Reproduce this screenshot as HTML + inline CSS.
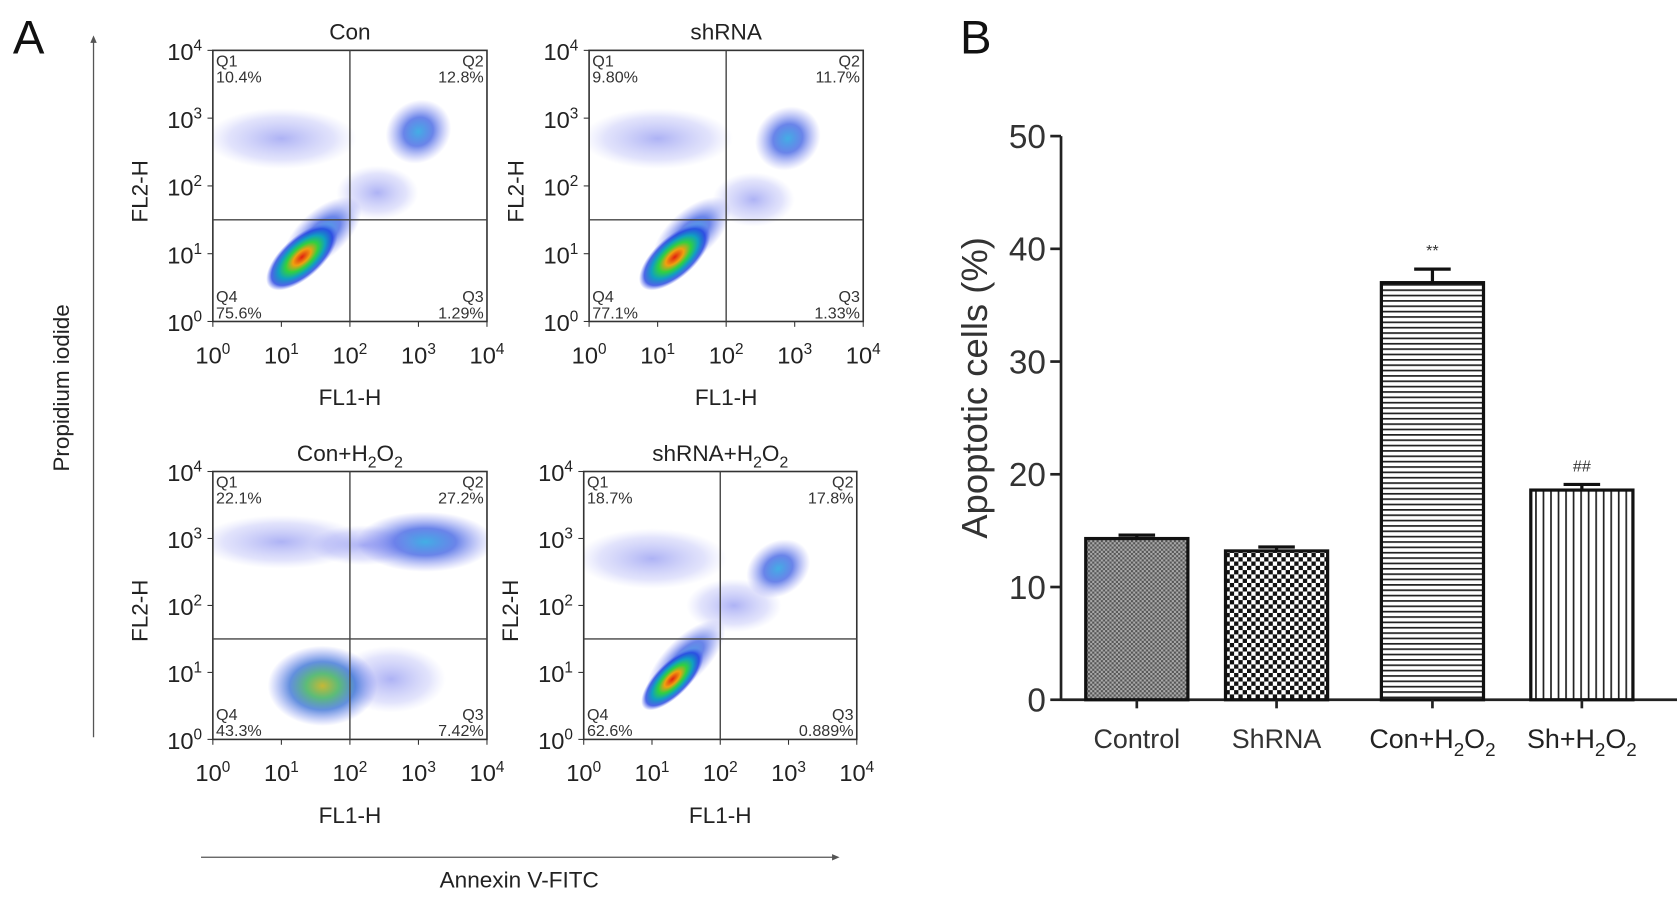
<!DOCTYPE html>
<html><head><meta charset="utf-8"><style>
html,body{margin:0;padding:0;background:#fff}
svg{display:block;font-family:"Liberation Sans",Arial,sans-serif}
</style></head><body>
<svg id="fig" width="1677" height="898" viewBox="0 0 1560 838" preserveAspectRatio="none" xmlns="http://www.w3.org/2000/svg">
<defs>
<radialGradient id="gDiff"><stop offset="0" stop-color="#4a55e8" stop-opacity="0.45"/><stop offset="0.7" stop-color="#7a80f0" stop-opacity="0.22"/><stop offset="1" stop-color="#9aa0f5" stop-opacity="0"/></radialGradient>
<radialGradient id="gDense"><stop offset="0" stop-color="#22a0e0" stop-opacity="0.85"/><stop offset="0.45" stop-color="#2a50e0" stop-opacity="0.7"/><stop offset="1" stop-color="#6a70f0" stop-opacity="0"/></radialGradient>
<radialGradient id="gCore"><stop offset="0" stop-color="#e02010"/><stop offset="0.25" stop-color="#f0a010"/><stop offset="0.45" stop-color="#30d040"/><stop offset="0.65" stop-color="#10a0c0"/><stop offset="0.85" stop-color="#2040e0" stop-opacity="0.8"/><stop offset="1" stop-color="#5060f0" stop-opacity="0"/></radialGradient>
<radialGradient id="gMid"><stop offset="0" stop-color="#c0b020" stop-opacity="0.9"/><stop offset="0.3" stop-color="#40b060" stop-opacity="0.85"/><stop offset="0.6" stop-color="#2060d0" stop-opacity="0.7"/><stop offset="1" stop-color="#5060f0" stop-opacity="0"/></radialGradient>
<pattern id="pCtrl" width="4" height="4" patternUnits="userSpaceOnUse"><rect width="4" height="4" fill="#aaa"/><rect width="2" height="2" fill="#555"/><rect x="2" y="2" width="2" height="2" fill="#555"/></pattern>
<pattern id="pSh" width="8" height="8" patternUnits="userSpaceOnUse"><rect width="8" height="8" fill="#fff"/><rect width="4" height="4" fill="#111"/><rect x="4" y="4" width="4" height="4" fill="#111"/></pattern>
<pattern id="pH" width="6" height="5" patternUnits="userSpaceOnUse"><rect width="6" height="5" fill="#fff"/><rect width="6" height="1.6" fill="#222"/></pattern>
<pattern id="pV" width="7" height="6" patternUnits="userSpaceOnUse"><rect width="7" height="6" fill="#fff"/><rect width="1.6" height="6" fill="#222"/></pattern>
</defs>
<g id="panelA"></g>
<g id="panelB"></g>
</svg>
<script>
const NS="http://www.w3.org/2000/svg";
function mk(tag,attrs,parent,txt){const e=document.createElementNS(NS,tag);for(const k in attrs)e.setAttribute(k,attrs[k]);if(txt!==undefined)e.textContent=txt;parent.appendChild(e);return e;}

// ---- Panel A data ----
const plotTitles=["Con","shRNA","Con+H2O2","shRNA+H2O2"];
const q1Values=["10.4%","9.80%","22.1%","18.7%"];
const q2Values=["12.8%","11.7%","27.2%","17.8%"];
const q3Values=["1.29%","1.33%","7.42%","0.889%"];
const q4Values=["75.6%","77.1%","43.3%","62.6%"];
const gateX=[2.0,2.0,2.0,2.0];
const gateY=[1.5,1.5,1.5,1.5];
const decadeTicks=["0","1","2","3","4"];
// blobs: [cxLog, cyLog, rxLog, ryLog, angleDeg, kind]
const blobs=[
 [[1.0,2.7,1.1,0.45,0,"d"],[3.0,2.8,0.5,0.45,-40,"n"],[2.4,1.9,0.6,0.4,0,"d"],[1.6,1.3,0.7,0.35,-42,"n"],[1.3,0.95,0.65,0.3,-42,"c"]],
 [[1.0,2.7,1.1,0.45,0,"d"],[2.9,2.7,0.5,0.45,-40,"n"],[2.4,1.8,0.6,0.4,0,"d"],[1.5,1.3,0.7,0.35,-42,"n"],[1.25,0.95,0.65,0.3,-42,"c"]],
 [[1.0,2.95,1.2,0.4,0,"d"],[3.1,2.95,1.0,0.45,0,"n"],[2.2,2.9,0.8,0.3,0,"d"],[2.6,0.9,0.8,0.5,0,"d"],[1.6,0.8,0.8,0.6,0,"m"]],
 [[1.0,2.7,1.1,0.45,0,"d"],[2.85,2.55,0.5,0.4,-35,"n"],[2.2,2.0,0.7,0.4,0,"d"],[1.5,1.2,0.75,0.32,-45,"n"],[1.3,0.9,0.6,0.25,-45,"c"]]
];
const boxes=[[198,47,255,253],[548,47,255,253],[198,440,255,250],[543,440,254,250]];
const blobFill={d:'url(#gDiff)',n:'url(#gDense)',c:'url(#gCore)',m:'url(#gMid)'};

const A=document.getElementById('panelA');
function sup(parent,x,y,base,exp,size,anchor){const t=mk('text',{x:x,y:y,'font-size':size,'text-anchor':anchor||'middle',fill:'#222'},parent);mk('tspan',{},t,base);mk('tspan',{dy:-size*0.4,'font-size':size*0.65},t,exp);return t;}
function h2o2(parent,x,y,prefix,size){const t=mk('text',{x:x,y:y,'font-size':size,'text-anchor':'middle',fill:'#222'},parent);mk('tspan',{},t,prefix+"H");mk('tspan',{dy:size*0.3,'font-size':size*0.7},t,"2");mk('tspan',{dy:-size*0.3},t,"O");mk('tspan',{dy:size*0.3,'font-size':size*0.7},t,"2");return t;}

let lbA=mk('text',{x:12,y:50,'font-size':44,fill:'#111'},A,"A");
let va=mk('line',{x1:87,y1:688,x2:87,y2:36,stroke:'#555','stroke-width':1.2},A);
mk('polygon',{points:"84,40 90,40 87,33",fill:'#555'},A);
let ha=mk('line',{x1:187,y1:800,x2:776,y2:800,stroke:'#555','stroke-width':1.2},A);
mk('polygon',{points:"774,797 774,803 781,800",fill:'#555'},A);
let pil=mk('text',{x:0,y:0,'font-size':21,'text-anchor':'middle',fill:'#222',transform:'translate(64,362) rotate(-90)'},A,"Propidium iodide");
let anl=mk('text',{x:483,y:828,'font-size':21,'text-anchor':'middle',fill:'#222'},A,"Annexin V-FITC");

boxes.forEach((b,i)=>{
 const [bx,by,bw,bh]=b;
 const g=mk('g',{},A);
 const sx=v=>bx+v/4*bw, sy=v=>by+bh-v/4*bh;
 const cid='clip'+i;const cp=mk('clipPath',{id:cid},g);mk('rect',{x:bx,y:by,width:bw,height:bh},cp);
 const bg=mk('g',{'clip-path':'url(#'+cid+')'},g);
 blobs[i].forEach(bl=>{
  const [cx,cy,rx,ry,ang,k]=bl;const X=sx(cx),Y=sy(cy);
  const e=mk('ellipse',{cx:X,cy:Y,rx:rx/4*bw,ry:ry/4*bh,fill:blobFill[k],transform:'rotate('+ang+' '+X+' '+Y+')'},bg);
  
 });
 let fr=mk('rect',{x:bx,y:by,width:bw,height:bh,fill:'none',stroke:'#333','stroke-width':1.5},g);
 let gx=mk('line',{x1:sx(gateX[i]),x2:sx(gateX[i]),y1:by,y2:by+bh,stroke:'#444','stroke-width':1.3},g);
 let gy=mk('line',{x1:bx,x2:bx+bw,y1:sy(gateY[i]),y2:sy(gateY[i]),stroke:'#444','stroke-width':1.3},g);
 decadeTicks.forEach((d,j)=>{
  mk('line',{x1:bx-5,x2:bx,y1:sy(j),y2:sy(j),stroke:'#333'},g);
  mk('line',{x1:sx(j),x2:sx(j),y1:by+bh,y2:by+bh+5,stroke:'#333'},g);
  let ty=sup(g,bx-10,sy(j)+9,"10",d,22,'end');
  let tx=sup(g,sx(j),by+bh+39,"10",d,22,'middle');
 });
 let t=(i>=2)?h2o2(g,bx+bw/2,by-10,i===2?"Con+":"shRNA+",21):mk('text',{x:bx+bw/2,y:by-10,'font-size':21,'text-anchor':'middle',fill:'#222'},g,plotTitles[i]);
 
 let xl=mk('text',{x:bx+bw/2,y:by+bh+78,'font-size':21,'text-anchor':'middle',fill:'#222'},g,"FL1-H");
 let yl=mk('text',{x:0,y:0,'font-size':21,'text-anchor':'middle',fill:'#222',transform:'translate('+(bx-61)+','+(by+bh*0.52)+') rotate(-90)'},g,"FL2-H");
 const fs=15;
 [[bx+3,by+15,"Q1",'start'],[bx+3,by+30,q1Values[i],'start'],[bx+bw-3,by+15,"Q2",'end'],[bx+bw-3,by+30,q2Values[i],'end'],
  [bx+3,by+bh-18,"Q4",'start'],[bx+3,by+bh-3,q4Values[i],'start'],[bx+bw-3,by+bh-18,"Q3",'end'],[bx+bw-3,by+bh-3,q3Values[i],'end']].forEach(q=>{
  let qt=mk('text',{x:q[0],y:q[1],'font-size':fs,'text-anchor':q[3],fill:'#333'},g,q[2]);
 });
});

// ---- Panel B data ----
const categories=["Control","ShRNA","Con+H2O2","Sh+H2O2"];
const values=[14.3,13.2,37.0,18.6];
const errors=[0.3,0.35,1.2,0.5];
const sigMarks=["","","**","##"];
const yTicks=[0,10,20,30,40,50];
const fills=["url(#pCtrl)","url(#pSh)","url(#pH)","url(#pV)"];

const B=document.getElementById('panelB');
const x0=987,y0=653,y50=127,barW=95;
const barLeft=[1010,1140,1285,1424];
const yS=v=>y0-(v/50)*(y0-y50);
let lbB=mk('text',{x:893,y:50,'font-size':44,fill:'#111'},B,"B");
let yax=mk('line',{x1:x0,x2:x0,y1:y50,y2:y0,stroke:'#222','stroke-width':2.5},B);
let xax=mk('line',{x1:x0,x2:1562,y1:y0,y2:y0,stroke:'#222','stroke-width':2.5},B);
yTicks.forEach(v=>{
 mk('line',{x1:x0-10,x2:x0,y1:yS(v),y2:yS(v),stroke:'#222','stroke-width':2.5},B);
 let t=mk('text',{x:x0-14,y:yS(v)+11,'font-size':31,'text-anchor':'end',fill:'#333'},B,String(v));
});
let ytl=mk('text',{x:0,y:0,'font-size':34,'text-anchor':'middle',fill:'#333',transform:'translate(918,362) rotate(-90)'},B,"Apoptotic cells (%)");
categories.forEach((c,i)=>{
 const L=barLeft[i],cx=L+barW/2;
 const bar=mk('rect',{x:L,y:yS(values[i]),width:barW,height:y0-yS(values[i]),fill:fills[i],stroke:'#111','stroke-width':3},B);
 
 
 const eb=mk('g',{stroke:'#111','stroke-width':3},B);
 mk('line',{x1:cx,x2:cx,y1:yS(values[i]),y2:yS(values[i]+errors[i])},eb);
 mk('line',{x1:cx-17,x2:cx+17,y1:yS(values[i]+errors[i]),y2:yS(values[i]+errors[i])},eb);
 mk('line',{x1:cx,x2:cx,y1:y0,y2:y0+8,stroke:'#222','stroke-width':2.5},B);
 if(sigMarks[i]){let s=mk('text',{x:cx,y:yS(values[i]+errors[i])-12,'font-size':15,'text-anchor':'middle',fill:'#333'},B,sigMarks[i]);}
 let lab;
 if(i>=2)lab=h2o2(B,cx,698,i===2?"Con+":"Sh+",25);
 else lab=mk('text',{x:cx,y:698,'font-size':25,'text-anchor':'middle',fill:'#333'},B,c);
 
});
</script>
</body></html>
